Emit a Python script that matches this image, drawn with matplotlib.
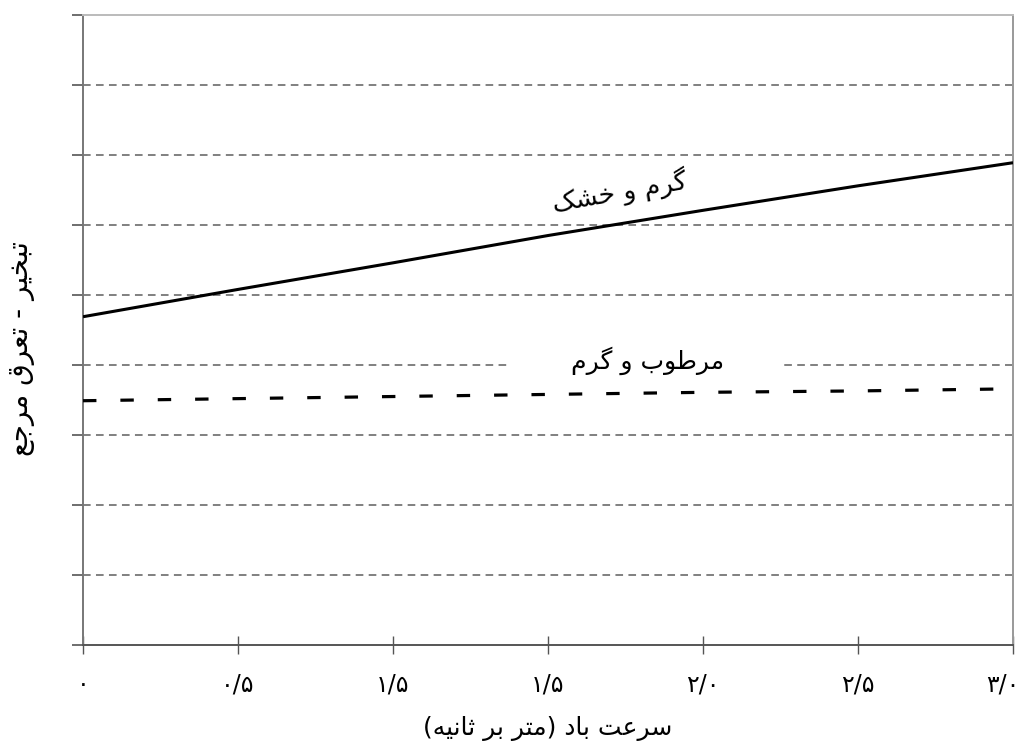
"""
Evapotranspiração de referência x velocidade do vento (rótulos em persa).
"""

import matplotlib
matplotlib.use("Agg")
import matplotlib.pyplot as plt
from matplotlib.transforms import ScaledTranslation

# ---------------------------------------------------------------------------
# Dados
# ---------------------------------------------------------------------------

wind_speed = [0.0, 0.5, 1.0, 1.5, 2.0, 2.5, 3.0]
hot_dry = [4.69, 5.08, 5.46, 5.85, 6.21, 6.56, 6.89]
humid_hot = [3.49, 3.52, 3.55, 3.58, 3.61, 3.63, 3.66]

x_ticks = [0.0, 0.5, 1.0, 1.5, 2.0, 2.5, 3.0]
x_tick_labels = ["۰", "۰/۵", "۱/۵", "۱/۵", "۲/۰", "۲/۵", "۳/۰"]
y_ticks = list(range(10))

label_hot_dry = "گرم و خشک"
label_humid_hot = "مرطوب و گرم"
x_title = "سرعت باد (متر بر ثانیه)"
y_title = "تبخیر - تعرق مرجع"

# ---------------------------------------------------------------------------
# Formas contextuais árabes/persas (matplotlib não faz shaping)
# isolada, final, inicial, medial
# ---------------------------------------------------------------------------

FORMS = {
    "ا": ("\uFE8D", "\uFE8E", None, None),
    "ب": ("\uFE8F", "\uFE90", "\uFE91", "\uFE92"),
    "ت": ("\uFE95", "\uFE96", "\uFE97", "\uFE98"),
    "ث": ("\uFE99", "\uFE9A", "\uFE9B", "\uFE9C"),
    "ج": ("\uFE9D", "\uFE9E", "\uFE9F", "\uFEA0"),
    "خ": ("\uFEA5", "\uFEA6", "\uFEA7", "\uFEA8"),
    "د": ("\uFEA9", "\uFEAA", None, None),
    "ر": ("\uFEAD", "\uFEAE", None, None),
    "س": ("\uFEB1", "\uFEB2", "\uFEB3", "\uFEB4"),
    "ش": ("\uFEB5", "\uFEB6", "\uFEB7", "\uFEB8"),
    "ط": ("\uFEC1", "\uFEC2", "\uFEC3", "\uFEC4"),
    "ع": ("\uFEC9", "\uFECA", "\uFECB", "\uFECC"),
    "ق": ("\uFED5", "\uFED6", "\uFED7", "\uFED8"),
    "م": ("\uFEE1", "\uFEE2", "\uFEE3", "\uFEE4"),
    "ن": ("\uFEE5", "\uFEE6", "\uFEE7", "\uFEE8"),
    "ه": ("\uFEE9", "\uFEEA", "\uFEEB", "\uFEEC"),
    "و": ("\uFEED", "\uFEEE", None, None),
    "ی": ("\uFBFC", "\uFBFD", "\uFBFE", "\uFBFF"),
    "ک": ("\uFB8E", "\uFB8F", "\uFB90", "\uFB91"),
    "گ": ("\uFB92", "\uFB93", "\uFB94", "\uFB95"),
}
MIRROR = {"(": ")", ")": "("}


def rtl(text):
    out = []
    for i, ch in enumerate(text):
        if ch not in FORMS:
            out.append(ch)
            continue
        prev = text[i - 1] if i > 0 else ""
        nxt = text[i + 1] if i + 1 < len(text) else ""
        iso, fin, ini, med = FORMS[ch]
        join_prev = prev in FORMS and FORMS[prev][2] is not None
        join_next = nxt in FORMS and ini is not None
        if join_prev and join_next:
            out.append(med)
        elif join_prev:
            out.append(fin)
        elif join_next:
            out.append(ini)
        else:
            out.append(iso)
    return "".join(MIRROR.get(c, c) for c in reversed(out))


# ---------------------------------------------------------------------------
# Figura
# ---------------------------------------------------------------------------

plt.rcParams["font.family"] = ["DejaVu Sans"]

fig = plt.figure(figsize=(10.21, 7.47), dpi=100)
ax = fig.add_axes([0.0813, 0.1365, 0.9109, 0.8434])

ax.set_xlim(0, 3.0)
ax.set_ylim(0, 9)

# grade tracejada
for yv in y_ticks[1:-1]:
    ax.axhline(yv, color="#5e5e5e", linewidth=1.1,
               linestyle=(0, (5, 3.5)), zorder=1)

ax.plot(wind_speed, hot_dry, color="black", linewidth=2.2,
        solid_capstyle="butt", zorder=3)
ax.plot(wind_speed, humid_hot, color="black", linewidth=2.3,
        linestyle=(0, (4.2, 7.5)), zorder=3)

ax.text(1.73, 6.47, rtl(label_hot_dry), fontsize=19, rotation=10,
        ha="center", va="center", zorder=4)
ax.text(1.82, 4.06, "\u00a0" * 7 + rtl(label_humid_hot) + "\u00a0" * 7,
        fontsize=18, ha="center", va="center", zorder=2,
        bbox=dict(boxstyle="square,pad=0.15", facecolor="white",
                  edgecolor="none"))

# eixos
ax.set_xticks(x_ticks)
ax.set_xticklabels(x_tick_labels, fontsize=17)
ax.set_yticks(y_ticks)
ax.set_yticklabels([])
ax.tick_params(axis="x", direction="inout", length=13, width=1.0,
               color="#555555", pad=13)
ax.tick_params(axis="y", direction="out", length=8, width=1.2,
               color="#555555")

# último rótulo empurrado para dentro, como no original
last = ax.get_xticklabels()[-1]
last.set_transform(last.get_transform()
                   + ScaledTranslation(-0.10, 0, fig.dpi_scale_trans))

ax.spines["left"].set_color("#777777")
ax.spines["left"].set_linewidth(1.4)
ax.spines["bottom"].set_color("#555555")
ax.spines["bottom"].set_linewidth(1.4)
ax.spines["top"].set_color("#bbbbbb")
ax.spines["top"].set_linewidth(1.4)
ax.spines["right"].set_color("#999999")
ax.spines["right"].set_linewidth(1.4)

ax.set_xlabel(rtl(x_title), fontsize=18, labelpad=14)
ax.set_ylabel(rtl(y_title), fontsize=20)
ax.yaxis.set_label_coords(-0.0516, 0.47)

fig.savefig("out.png", dpi=100)
plt.close(fig)
